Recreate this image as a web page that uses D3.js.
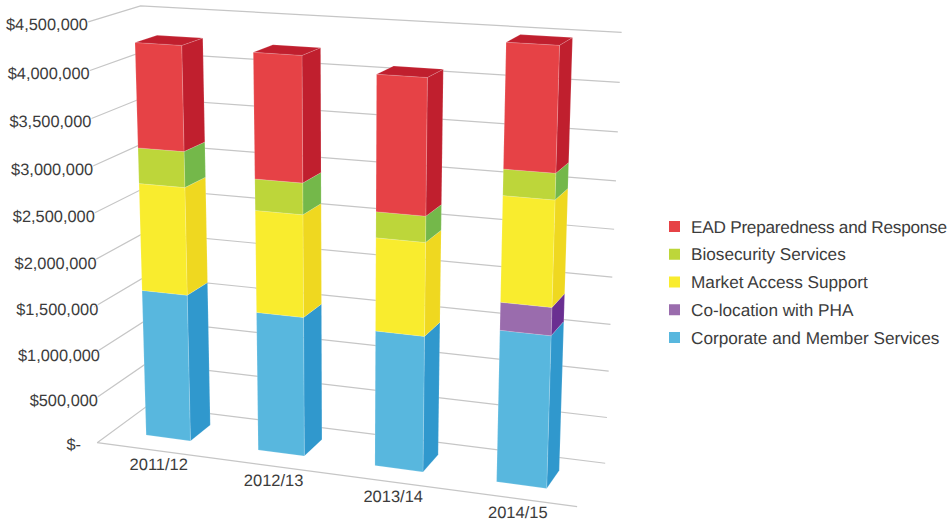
<!DOCTYPE html>
<html>

<head>
  <meta charset="utf-8">
  <script src="https://d3js.org/d3.v7.min.js"></script>
  <style>
    html, body { margin: 0; padding: 0; background: #fff; }
    svg { display: block; }
    text { font-family: "Liberation Sans", Arial, sans-serif; fill: #3c3c3c; text-rendering: geometricPrecision; }
  </style>
</head>

<body>
  <svg id="chart" width="949" height="525"></svg>

  <script>
    const years = ["2011/12", "2012/13", "2013/14", "2014/15"];
    const seriesNames = ["Corporate and Member Services", "Co-location with PHA", "Market Access Support", "Biosecurity Services", "EAD Preparedness and Response"];

    const corporate = [1625000, 1520000, 1460000, 1610000];
    const colocation = [0, 0, 0, 290000];
    const marketAccess = [1160000, 1090000, 980000, 1085000];
    const biosecurity = [380000, 330000, 270000, 265000];
    const ead = [1100000, 1300000, 1390000, 1240000];

    const tickValues = [0, 500000, 1000000, 1500000, 2000000, 2500000, 3000000, 3500000, 4000000, 4500000];
    const tickLabels = ["$-", "$500,000", "$1,000,000", "$1,500,000", "$2,000,000", "$2,500,000", "$3,000,000", "$3,500,000", "$4,000,000", "$4,500,000"];

    const frontColors = ["#58b7de", "#9a6cad", "#f9ec2e", "#bdd63a", "#e64246"];
    const sideColors = ["#3098cd", "#6a2f91", "#efd820", "#74b84a", "#c01f2e"];

    const seriesValues = [corporate, colocation, marketAccess, biosecurity, ead];
    const svg = d3.select("svg#chart");

    const xBand = d3.scaleBand().domain(years).range([0, 1]).paddingInner(0.6).paddingOuter(0.3).align(0.43);
    const yValue = d3.scaleLinear().domain([0, 4500000]).range([0, 1]);
    const barFront = 0.3;
    const barBack = 0.7;

    // box corners: [across, up, depth] -> [x, y]
    const gridAnchors = [
      [[0, 0, 0], [96.7, 442.7]],
      [[1, 0, 0], [576, 507.7]],
      [[0, 0, 1], [148, 406]],
      [[1, 0, 1], [605.7, 462]],
      [[0, 1, 1], [139, 6.7]],
      [[1, 1, 1], [621.6, 32]],
      [[0, 1, 0], [89, 21]],
      [[1, 4 / 9, 1], [612.7, 277]],
      [[1, 2 / 9, 1], [609, 371]],
      [[1, 7 / 9, 1], [617.7, 132.7]]
    ];

    // the bars lean a little differently from the walls in the original, so they get their own fit
    const barPixels = [
      { bottom: [[146, 435], [190.7, 441], [210, 425]], top: [[135, 41.7], [181.7, 44.3], [202.7, 37], [158, 34]] },
      { bottom: [[258.3, 450], [304.3, 456], [322, 440]], top: [[253.3, 54], [301.7, 56.7], [320.3, 49.3], [272.7, 46.7]] },
      { bottom: [[374.7, 465.7], [423, 471.7], [438.3, 455]], top: [[376, 74], [427.7, 77.3], [443.3, 69], [393.3, 65.7]] },
      { bottom: [[496.7, 481.7], [546.7, 488.3], [559.3, 470]], top: [[506, 42], [560, 45], [572.3, 37.3], [520.7, 34]] }
    ];

    const barAnchors = [];
    years.forEach((year, i) => {
      const u0 = xBand(year);
      const u1 = u0 + xBand.bandwidth();
      const top = yValue(d3.sum(seriesValues, values => values[i]));
      const p = barPixels[i];
      barAnchors.push(
        [[u0, 0, barFront], p.bottom[0]],
        [[u1, 0, barFront], p.bottom[1]],
        [[u1, 0, barBack], p.bottom[2]],
        [[u0, top, barFront], p.top[0]],
        [[u1, top, barFront], p.top[1]],
        [[u1, top, barBack], p.top[2]],
        [[u0, top, barBack], p.top[3]]
      );
    });

    // least squares fit of a 3x4 camera matrix
    function fitCamera(points) {
      const n = 11;
      const A = d3.range(n).map(() => new Array(n + 1).fill(0));
      points.forEach(([[X, Y, Z], [x, y]]) => {
        [
          [X, Y, Z, 1, 0, 0, 0, 0, -x * X, -x * Y, -x * Z, x],
          [0, 0, 0, 0, X, Y, Z, 1, -y * X, -y * Y, -y * Z, y]
        ].forEach(row => {
          for (let i = 0; i < n; i++) {
            for (let j = 0; j <= n; j++) A[i][j] += row[i] * row[j];
          }
        });
      });
      for (let i = 0; i < n; i++) {
        let best = i;
        for (let r = i + 1; r < n; r++) if (Math.abs(A[r][i]) > Math.abs(A[best][i])) best = r;
        [A[i], A[best]] = [A[best], A[i]];
        for (let r = 0; r < n; r++) {
          if (r === i) continue;
          const f = A[r][i] / A[i][i];
          for (let j = i; j <= n; j++) A[r][j] -= f * A[i][j];
        }
      }
      return A.map((row, i) => row[n] / row[i]);
    }

    function projector(cam) {
      return (u, v, w) => {
        const d = cam[8] * u + cam[9] * v + cam[10] * w + 1;
        return [
          (cam[0] * u + cam[1] * v + cam[2] * w + cam[3]) / d,
          (cam[4] * u + cam[5] * v + cam[6] * w + cam[7]) / d
        ];
      };
    }

    const project = projector(fitCamera(gridAnchors));
    const projectBar = projector(fitCamera(barAnchors));

    const path = d3.line();

    // gridlines: left wall and back wall, plus the front edge of the floor
    const grid = svg.append("g").attr("fill", "none").attr("stroke", "#c6c6c6").attr("stroke-width", 1.2);
    tickValues.forEach(t => {
      const v = yValue(t);
      grid.append("path").attr("d", path([project(0, v, 0), project(0, v, 1), project(1, v, 1)]));
    });
    grid.append("path").attr("d", path([project(0, 0, 0), project(1, 0, 0)]));

    // bars
    const bars = svg.append("g").attr("stroke", "#fff").attr("stroke-opacity", 0.22).attr("stroke-width", 0.7);
    years.forEach((year, i) => {
      const u0 = xBand(year);
      const u1 = u0 + xBand.bandwidth();
      let base = 0;
      const g = bars.append("g");
      seriesValues.forEach((values, s) => {
        if (!values[i]) return;
        const v0 = yValue(base);
        base += values[i];
        const v1 = yValue(base);
        g.append("path")
          .attr("d", path([projectBar(u1, v0, barFront), projectBar(u1, v0, barBack), projectBar(u1, v1, barBack), projectBar(u1, v1, barFront)]) + "Z")
          .attr("fill", sideColors[s]);
        g.append("path")
          .attr("d", path([projectBar(u0, v0, barFront), projectBar(u1, v0, barFront), projectBar(u1, v1, barFront), projectBar(u0, v1, barFront)]) + "Z")
          .attr("fill", frontColors[s]);
      });
      const top = yValue(base);
      g.append("path")
        .attr("d", path([projectBar(u0, top, barFront), projectBar(u1, top, barFront), projectBar(u1, top, barBack), projectBar(u0, top, barBack)]) + "Z")
        .attr("fill", sideColors[4]);
    });

    // y labels sit just left of where each wall line starts
    const labelEnd = d3.scaleLinear().domain([0, 500000, 1000000, 4500000]).range([81, 98, 100, 88]);
    svg.append("g").selectAll("text")
      .data(tickValues)
      .join("text")
      .attr("x", d => labelEnd(d))
      .attr("y", d => project(0, yValue(d), 0)[1] + 2)
      .attr("dy", "0.35em")
      .attr("text-anchor", "end")
      .attr("font-size", 16.4)
      .attr("stroke", "#fff")
      .attr("stroke-width", 2)
      .attr("paint-order", "stroke")
      .text((d, i) => tickLabels[i]);

    // category labels under the floor edge
    svg.append("g").selectAll("text")
      .data(years)
      .join("text")
      .attr("x", d => project(xBand(d) + xBand.bandwidth() / 2, 0, 0)[0] + 10.5)
      .attr("y", d => project(xBand(d) + xBand.bandwidth() / 2, 0, 0)[1] + 21)
      .attr("text-anchor", "middle")
      .attr("font-size", 16.5)
      .text(d => d);

    // legend
    const legendOrder = seriesNames.map((d, i) => i).reverse();
    const legendY = d3.scalePoint().domain(legendOrder).range([226.5, 337.5]);
    const legend = svg.append("g").selectAll("g")
      .data(legendOrder)
      .join("g")
      .attr("transform", d => `translate(669, ${legendY(d)})`);
    legend.append("rect")
      .attr("y", -5.5)
      .attr("width", 11)
      .attr("height", 11)
      .attr("fill", d => frontColors[d]);
    legend.append("text")
      .attr("x", 22)
      .attr("dy", "0.35em")
      .attr("font-size", 17.2)
      .attr("textLength", d => d === 4 ? 256 : null)
      .text(d => seriesNames[d]);
  </script>
</body>

</html>
